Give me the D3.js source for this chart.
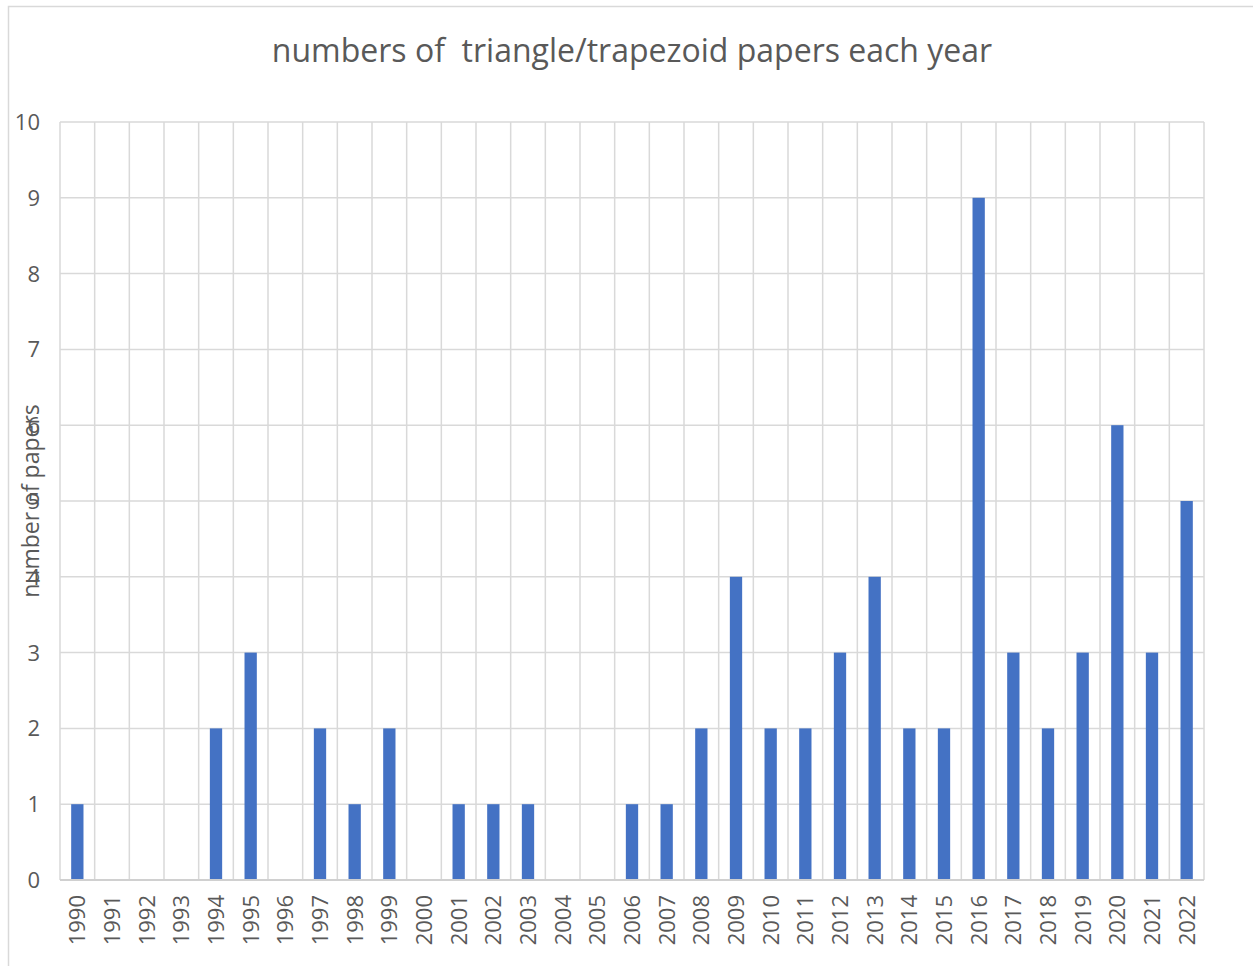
<!DOCTYPE html>
<html>
<head>
<meta charset="utf-8">
<script src="https://cdn.jsdelivr.net/npm/d3@7"></script>
<style>
  body { margin: 0; background: #fff; }
  text { font-family: "Open Sans", sans-serif; fill: #595959; }
</style>
</head>
<body>
<script>
// years and paper counts
var years = ["1990","1991","1992","1993","1994","1995","1996","1997","1998","1999",
  "2000","2001","2002","2003","2004","2005","2006","2007","2008","2009","2010",
  "2011","2012","2013","2014","2015","2016","2017","2018","2019","2020","2021","2022"];
var papers = [1,0,0,0,2,3,0,2,1,2, 0,1,1,1,0,0,1,1,2,4,2, 2,3,4,2,2,9,3,2,3,6,3,5];
var yTicks = [0,1,2,3,4,5,6,7,8,9,10];

var W = 1253, H = 966;
var margin = {top: 122, right: 49, bottom: 86, left: 60},
    width = W - margin.left - margin.right,
    height = H - margin.top - margin.bottom;

var svg = d3.select("body").append("svg")
    .attr("width", W)
    .attr("height", H);

// chart border (runs off the right and bottom edge)
svg.append("rect")
    .attr("x", 8.5).attr("y", 6.5)
    .attr("width", W).attr("height", H)
    .attr("fill", "none")
    .attr("stroke", "#d9d9d9")
    .attr("stroke-width", 1.5);

var g = svg.append("g")
    .attr("transform", "translate(" + margin.left + "," + margin.top + ")");

var x = d3.scaleBand()
    .domain(years)
    .range([0, width])
    .paddingInner(0.645)
    .paddingOuter(0.3225);

var y = d3.scaleLinear()
    .domain([0, 10])
    .range([height, 0]);

var step = width / years.length;

// horizontal gridlines
g.selectAll(".hgrid")
    .data(yTicks)
  .enter().append("line")
    .attr("x1", 0).attr("x2", width)
    .attr("y1", function(d) { return y(d); })
    .attr("y2", function(d) { return y(d); })
    .attr("stroke", "#d9d9d9")
    .attr("stroke-width", 1.5);

// vertical gridlines at category boundaries
g.selectAll(".vgrid")
    .data(d3.range(years.length + 1))
  .enter().append("line")
    .attr("x1", function(i) { return i * step; })
    .attr("x2", function(i) { return i * step; })
    .attr("y1", 0).attr("y2", height)
    .attr("stroke", "#d9d9d9")
    .attr("stroke-width", 1.5);

// bars
g.selectAll(".bar")
    .data(papers)
  .enter().append("rect")
    .attr("x", function(d, i) { return x(years[i]); })
    .attr("width", x.bandwidth())
    .attr("y", function(d) { return y(d); })
    .attr("height", function(d) { return height - y(d); })
    .attr("fill", "#4472c4");

// baseline
g.append("line")
    .attr("x1", 0).attr("x2", width)
    .attr("y1", height).attr("y2", height)
    .attr("stroke", "#d0d0d0")
    .attr("stroke-width", 2);

// y tick labels
g.selectAll(".ylab")
    .data(yTicks)
  .enter().append("text")
    .attr("x", -20)
    .attr("y", function(d) { return y(d); })
    .attr("dy", "0.36em")
    .attr("text-anchor", "end")
    .style("font-size", "22px")
    .text(function(d) { return d; });

// x tick labels, rotated
g.selectAll(".xlab")
    .data(years)
  .enter().append("text")
    .attr("transform", function(d) {
      return "translate(" + (x(d) + x.bandwidth() / 2) + "," + (height + 15) + ") rotate(-90)";
    })
    .attr("dy", "0.36em")
    .attr("text-anchor", "end")
    .style("font-size", "22px")
    .text(function(d) { return d; });

// axis title
svg.append("text")
    .attr("transform", "translate(31," + (margin.top + height / 2) + ") rotate(-90)")
    .attr("dy", "0.36em")
    .attr("text-anchor", "middle")
    .style("font-size", "23px")
    .text("number of papers");

// chart title
svg.append("text")
    .attr("x", margin.left + width / 2)
    .attr("y", 62)
    .attr("text-anchor", "middle")
    .style("font-size", "32px")
    .style("white-space", "pre")
    .text("numbers of  triangle/trapezoid papers each year");
</script>
</body>
</html>
